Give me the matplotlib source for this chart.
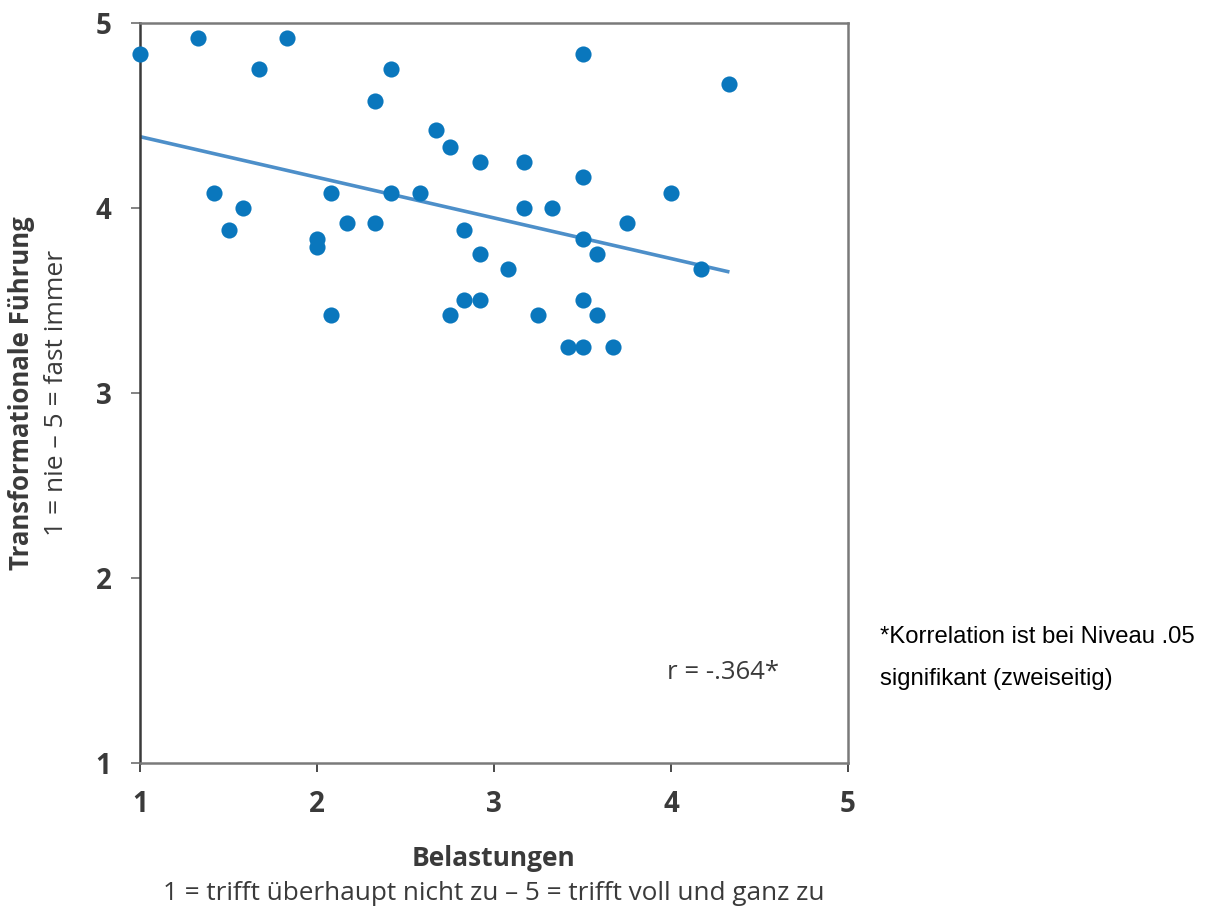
import numpy as np
import matplotlib
matplotlib.use("Agg")
import matplotlib.pyplot as plt

belastungen = [1.0, 1.33, 1.83, 1.67, 1.42, 1.58, 1.5, 2.0, 2.0, 2.08, 2.08, 2.17, 2.33, 2.33,
               2.42, 2.42, 2.58, 2.67, 2.75, 2.75, 2.83, 2.83, 2.92, 2.92, 2.92, 3.08, 3.17,
               3.17, 3.25, 3.33, 3.42, 3.5, 3.5, 3.5, 3.5, 3.5, 3.58, 3.58, 3.67, 3.75, 4.0,
               4.17, 4.33]
fuehrung = [4.83, 4.92, 4.92, 4.75, 4.08, 4.0, 3.88, 3.83, 3.79, 4.08, 3.42, 3.92, 3.92, 4.58,
            4.75, 4.08, 4.08, 4.42, 4.33, 3.42, 3.88, 3.5, 4.25, 3.75, 3.5, 3.67, 4.25,
            4.0, 3.42, 4.0, 3.25, 4.83, 4.17, 3.83, 3.5, 3.25, 3.75, 3.42, 3.25, 3.92, 4.08,
            3.67, 4.67]
ticks = [1, 2, 3, 4, 5]
r_text = "r = -.364*"
note_text = "*Korrelation ist bei Niveau .05\nsignifikant (zweiseitig)"

dark = "#3a3a3a"
gray = "#7a7a7a"
dot_color = "#0a77bd"
line_color = "#4d8fc9"

fig = plt.figure(figsize=(12.07, 9.08), dpi=100)
ax = fig.add_axes([0.116, 0.1597, 0.5866, 0.815])

ax.scatter(belastungen, fuehrung, s=135, color=dot_color, zorder=3, linewidths=0,
           clip_on=False)

x = np.array(belastungen)
y = np.array(fuehrung)
slope, intercept = np.polyfit(x, y, 1)
xs = np.array([x.min(), x.max()])
ax.plot(xs, slope * xs + intercept, color=line_color, lw=2.6, zorder=2, solid_capstyle="butt")

ax.set_xlim(1, 5)
ax.set_ylim(1, 5)
ax.set_xticks(ticks)
ax.set_yticks(ticks)
ax.set_xticklabels([str(t) for t in ticks], fontfamily="Open Sans", fontweight="bold",
                   fontsize=20, color=dark)
ax.set_yticklabels([str(t) for t in ticks], fontfamily="Open Sans", fontweight="bold",
                   fontsize=20, color=dark)
ax.tick_params(axis="x", direction="out", length=6.5, width=1.3, color=dark, pad=13)
ax.tick_params(axis="y", direction="out", length=6.5, width=1.3, color=gray, pad=14)

ax.spines["left"].set_color(dark)
ax.spines["left"].set_linewidth(1.8)
ax.spines["bottom"].set_color(gray)
ax.spines["bottom"].set_linewidth(1.8)
ax.spines["top"].set_color(gray)
ax.spines["top"].set_linewidth(1.8)
ax.spines["right"].set_color(gray)
ax.spines["right"].set_linewidth(1.8)

ax.text(3.98, 1.49, r_text, fontfamily="Open Sans", fontsize=18.5, color=dark,
        ha="left", va="center")

fig.text(0.7292, 1 - 658 / 908, note_text, fontfamily="Liberation Sans", fontsize=17.2,
         color="black", ha="left", va="center", linespacing=2.2)

# axis titles
fig.text(0.4092, 1 - 859 / 908, "Belastungen", fontfamily="Open Sans", fontweight="bold",
         fontsize=19, color=dark, ha="center", va="center")
fig.text(0.4092, 1 - 893 / 908, "1 = trifft überhaupt nicht zu – 5 = trifft voll und ganz zu",
         fontfamily="Open Sans", fontsize=18.8, color=dark, ha="center", va="center")
fig.text(22 / 1207, 1 - 393 / 908, "Transformationale Führung", fontfamily="Open Sans",
         fontweight="bold", fontsize=18.5, color=dark, ha="center", va="center", rotation=90)
fig.text(57 / 1207, 1 - 393 / 908, "1 = nie – 5 = fast immer", fontfamily="Open Sans",
         fontsize=19, color=dark, ha="center", va="center", rotation=90)

fig.savefig("out.png", dpi=100)
